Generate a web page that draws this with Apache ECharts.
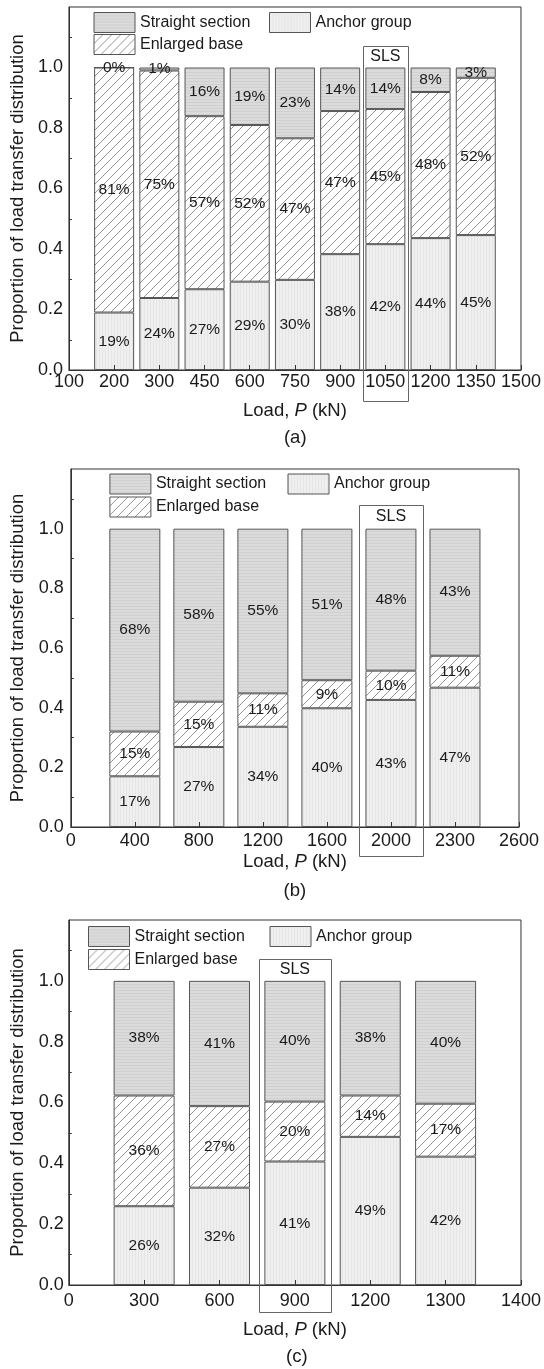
<!DOCTYPE html>
<html><head><meta charset="utf-8">
<script src="https://cdn.jsdelivr.net/npm/echarts@6/dist/echarts.min.js"></script>
<style>html,body{margin:0;padding:0;background:#fff}#c{width:544px;height:1369px}</style>
</head><body><div id="c"></div>
<script>
// ---------- data ----------
const aTicks = ['100','200','300','450','600','750','900','1050','1200','1350','1500'];
const aAnchor   = [0.190,0.238,0.267,0.292,0.298,0.383,0.416,0.436,0.446];
const aEnlarged = [0.810,0.752,0.572,0.518,0.468,0.473,0.447,0.483,0.520];
const aStraight = [0.000,0.010,0.161,0.190,0.234,0.144,0.137,0.081,0.034];
const aSLS = '1050';

const bTicks = ['0','400','800','1200','1600','2000','2300','2600'];
const bAnchor   = [0.170,0.268,0.336,0.398,0.426,0.467];
const bEnlarged = [0.150,0.152,0.112,0.094,0.098,0.107];
const bStraight = [0.680,0.580,0.552,0.508,0.476,0.426];
const bSLS = '2000';

const cTicks = ['0','300','600','900','1200','1300','1400'];
const cAnchor   = [0.259,0.320,0.406,0.487,0.422];
const cEnlarged = [0.364,0.268,0.197,0.136,0.174];
const cStraight = [0.377,0.412,0.397,0.377,0.404];
const cSLS = '900';

const yTicks = [0, 0.2, 0.4, 0.6, 0.8, 1.0];
const names = { straight: 'Straight section', anchor: 'Anchor group', enlarged: 'Enlarged base' };

// ---------- layout ----------
const FONT = "'Liberation Sans', Arial, Helvetica, sans-serif";
const panels = [
  { ticks:aTicks, anchor:aAnchor, enlarged:aEnlarged, straight:aStraight, sls:aSLS, tag:'(a)',
    grid:{left:68.5, top:7, width:453.5, height:363}, barWidth:40, xMargin:3, xNameGap:31, yNameGap:41, yMargin:6,
    tagY:438, slsFrac:1.0, slsUp:21.5, slsDown:31,
    legend:[[93.5,12],[269,12],[93.5,34]] },
  { ticks:bTicks, anchor:bAnchor, enlarged:bEnlarged, straight:bStraight, sls:bSLS, tag:'(b)',
    grid:{left:70.8, top:469, width:448.2, height:358}, barWidth:51, xMargin:5, xNameGap:25, yNameGap:43, yMargin:7,
    tagY:891, slsFrac:1.0, slsUp:23.5, slsDown:29,
    legend:[[109.4,473.5],[287.5,473.5],[109.4,496.5]] },
  { ticks:cTicks, anchor:cAnchor, enlarged:cEnlarged, straight:cStraight, sls:cSLS, tag:'(c)',
    grid:{left:68.75, top:920, width:456.25, height:365}, barWidth:61, xMargin:7.5, xNameGap:35, yNameGap:41, yMargin:5,
    tagY:1357, slsFrac:0.955, slsUp:22, slsDown:27,
    legend:[[88,926],[269.5,926],[88,949]] }
];

// ---------- patterns ----------
function mk(w,h,fn){const c=document.createElement('canvas');c.width=w;c.height=h;fn(c.getContext('2d'),w,h);return c;}
const patStraight = mk(4,3,(g,w,h)=>{g.fillStyle='#dbdbdb';g.fillRect(0,0,w,h);g.fillStyle='#d0d0d0';g.fillRect(0,0,w,1);});
const patAnchor = mk(3,4,(g,w,h)=>{g.fillStyle='#efefef';g.fillRect(0,0,w,h);g.fillStyle='#e5e5e5';g.fillRect(0,0,1,h);});
const patHatch = mk(9,9,(g,w,h)=>{g.fillStyle='#ffffff';g.fillRect(0,0,w,h);g.strokeStyle='#7a7a7a';g.lineWidth=0.8;
  g.beginPath();g.moveTo(0,h);g.lineTo(w,0);g.moveTo(-2,2);g.lineTo(2,-2);g.moveTo(w-2,h+2);g.lineTo(w+2,h-2);g.stroke();});
const fills = {
  straight: {image: patStraight, repeat: 'repeat'},
  anchor: {image: patAnchor, repeat: 'repeat'},
  enlarged: {image: patHatch, repeat: 'repeat'}
};

const textColor = '#1a1a1a';
const lineColor = '#333';
const pct = p => Math.round(p.value * 100) + '%';
const pad = arr => ['-'].concat(arr, ['-']);

const option = {
  animation: false,
  backgroundColor: '#fff',
  textStyle: { fontFamily: FONT },
  grid: [], xAxis: [], yAxis: [], series: [], legend: []
};

panels.forEach((p, i) => {
  option.grid.push(Object.assign({ show: true, borderColor: lineColor, borderWidth: 1, backgroundColor: 'transparent', containLabel: false }, p.grid));
  option.xAxis.push({
    type: 'category', gridIndex: i, data: p.ticks, boundaryGap: false, z: 5,
    name: '{n|Load, }{i|P}{n| (kN)}', nameLocation: 'middle', nameGap: p.xNameGap,
    nameTextStyle: { rich: {
      n: { fontSize: 18.5, color: textColor, fontFamily: FONT },
      i: { fontSize: 18.5, color: textColor, fontFamily: FONT, fontStyle: 'italic' } } },
    axisLine: { lineStyle: { color: lineColor, width: 1 } },
    axisTick: { inside: true, length: 5, interval: 0, lineStyle: { color: lineColor } },
    axisLabel: { interval: 0, margin: p.xMargin, fontSize: 18, color: textColor, fontFamily: FONT, showMinLabel: true, showMaxLabel: true },
    splitLine: { show: false }
  });
  option.yAxis.push({
    type: 'value', gridIndex: i, min: 0, max: 1.2, interval: 0.2, z: 5,
    name: 'Proportion of load transfer distribution', nameLocation: 'middle', nameGap: p.yNameGap,
    nameTextStyle: { fontSize: 18.5, color: textColor, fontFamily: FONT },
    axisLine: { show: true, lineStyle: { color: lineColor, width: 1 } },
    axisTick: { inside: true, length: 5, lineStyle: { color: lineColor } },
    minorTick: { show: true, splitNumber: 2, length: 3, lineStyle: { color: lineColor } },
    axisLabel: { margin: p.yMargin, fontSize: 18, color: textColor, fontFamily: FONT,
      formatter: v => (yTicks.some(t => Math.abs(t - v) < 1e-6) ? v.toFixed(1) : '') },
    splitLine: { show: false }
  });
  ['anchor', 'enlarged', 'straight'].forEach(key => {
    option.series.push({
      type: 'bar', name: names[key], xAxisIndex: i, yAxisIndex: i, stack: 'p' + i,
      barWidth: p.barWidth, data: pad(p[key]), z: 2,
      itemStyle: { color: fills[key], borderColor: '#555', borderWidth: 1 },
      label: { show: true, position: 'inside', formatter: pct, fontSize: 15.5, color: textColor, fontFamily: FONT },
      emphasis: { disabled: true }
    });
  });
  ['straight', 'anchor', 'enlarged'].forEach((key, k) => {
    option.legend.push({
      data: [names[key]], left: p.legend[k][0], top: p.legend[k][1], padding: 0, itemGap: 0,
      itemWidth: 41, itemHeight: 20, icon: 'rect', selectedMode: false,
      itemStyle: { borderColor: '#555', borderWidth: 1 },
      textStyle: { fontSize: 16, color: textColor, fontFamily: FONT }
    });
  });
});

const chart = echarts.init(document.getElementById('c'), null, { renderer: 'canvas' });
chart.setOption(option);

// ---------- annotations: SLS boxes and panel tags ----------
const gfx = [];
panels.forEach((p, i) => {
  const idx = p.ticks.indexOf(p.sls);
  const cx = chart.convertToPixel({ xAxisIndex: i }, idx);
  const nx = chart.convertToPixel({ xAxisIndex: i }, idx + 1);
  const w = (nx - cx) * p.slsFrac;
  const y1 = chart.convertToPixel({ yAxisIndex: i }, 1.0);
  const y0 = chart.convertToPixel({ yAxisIndex: i }, 0);
  const top = y1 - p.slsUp, bot = y0 + p.slsDown;
  gfx.push({ type: 'rect', silent: true, z: 10,
    shape: { x: Math.round(cx - w / 2) + 0.5, y: Math.round(top) + 0.5, width: Math.round(w), height: Math.round(bot - top) },
    style: { fill: null, stroke: '#666', lineWidth: 1 } });
  gfx.push({ type: 'text', silent: true, z: 10, x: cx, y: (top + y1) / 2,
    style: { text: 'SLS', fill: textColor, font: '16px ' + FONT, textAlign: 'center', textVerticalAlign: 'middle' } });
  const gcx = p.grid.left + p.grid.width / 2;
  gfx.push({ type: 'text', silent: true, z: 10, x: gcx, y: p.tagY,
    style: { text: p.tag, fill: textColor, font: '18.5px ' + FONT, textAlign: 'center', textVerticalAlign: 'middle' } });
});
chart.setOption({ graphic: gfx });
</script>
</body></html>
